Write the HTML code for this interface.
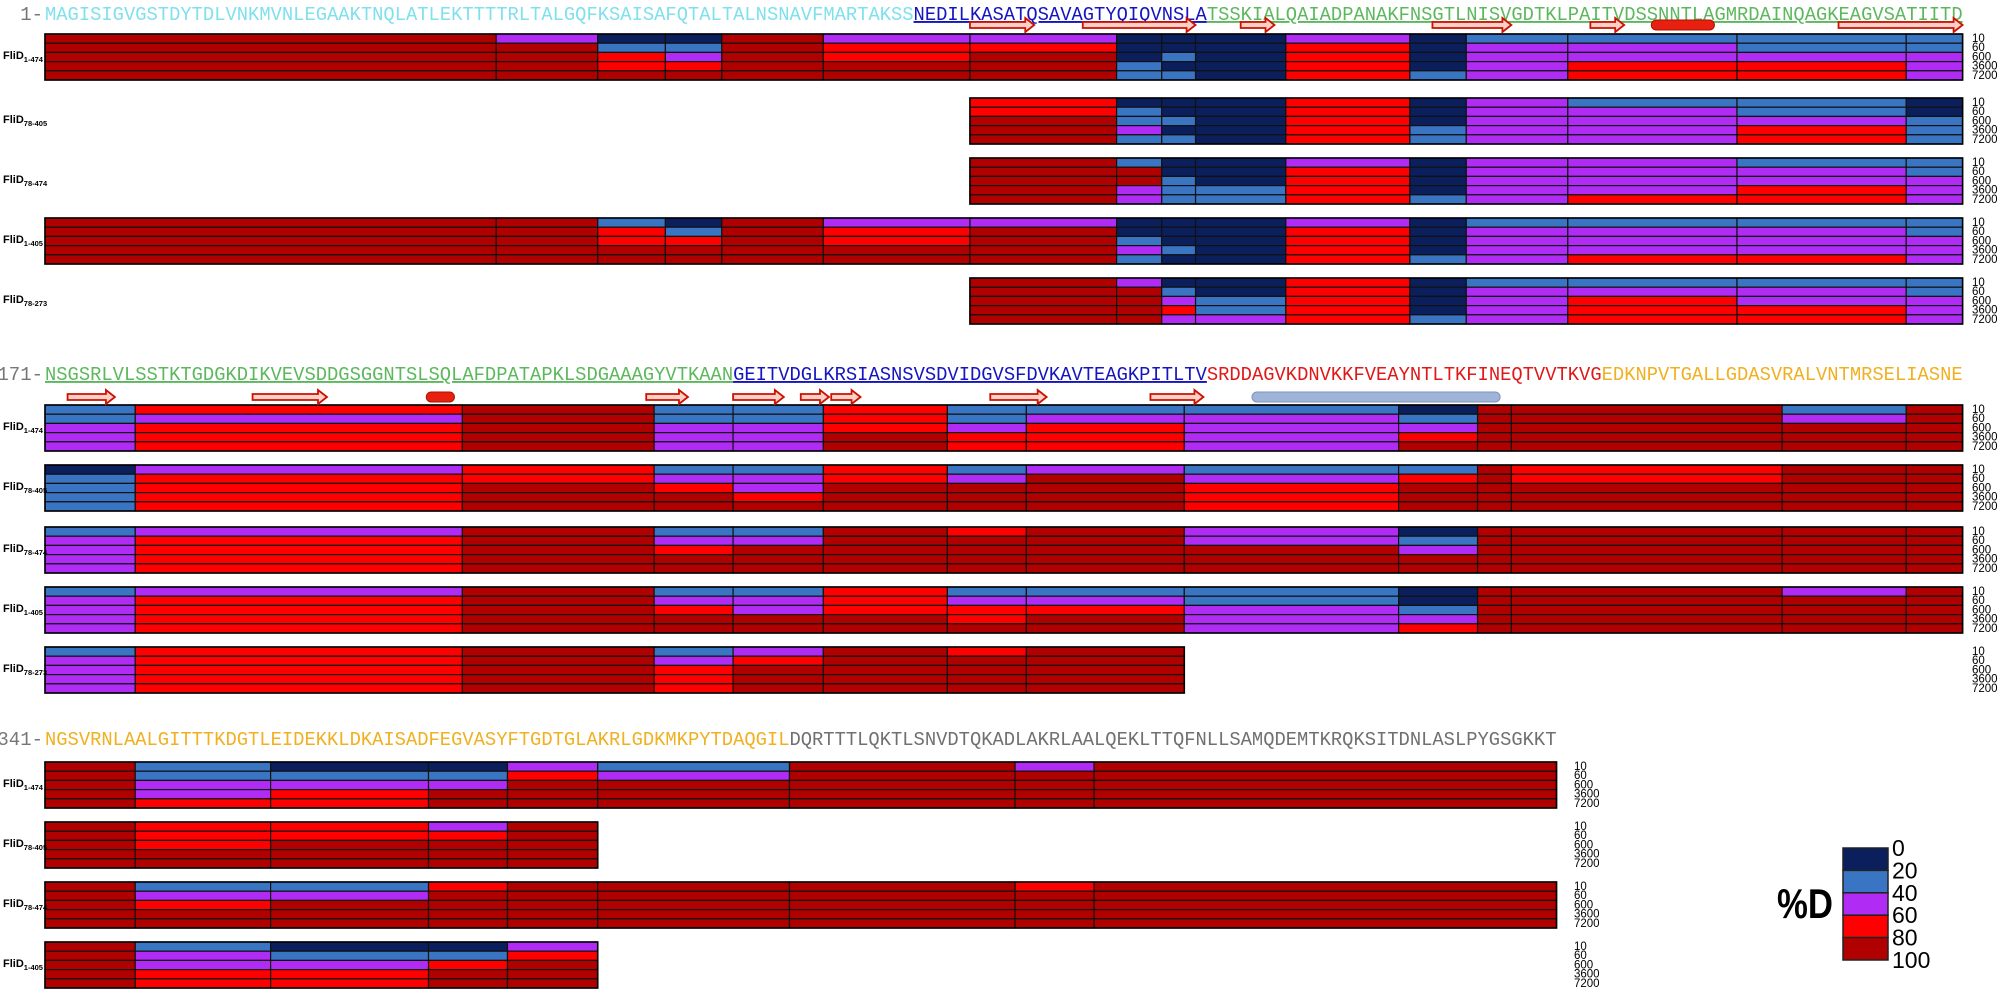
<!DOCTYPE html>
<html><head><meta charset="utf-8">
<style>
html,body{margin:0;padding:0;background:#fff;}
svg{display:block;}
</style></head>
<body>
<svg id="chart" width="2008" height="998" viewBox="0 0 2008 998" xmlns="http://www.w3.org/2000/svg">
  <g>
    <text x="1777" y="918" font-family="Liberation Sans, sans-serif" font-weight="bold" font-size="42" textLength="56" lengthAdjust="spacingAndGlyphs">%D</text>
  </g>
</svg>
<script>
// ---------- data ----------
const levelColors = ['#0b1f5c','#3a75c4','#b02cf5','#ff0000','#b00000'];
const legendTicks = ['0','20','40','60','80','100'];
const timeLabels = ['10','60','600','3600','7200'];
const sectionStarts = [1, 171, 341];
const sectionLengths = [170, 170, 134];
const seqPieces1 = [['MAGISIGVGSTDYTDLVNKMVNLEGAAKTNQLATLEKTTTTRLTALGQFKSAISAFQTALTALNSNAVFMARTAKSS','#7fe0ee',false],['NEDILKASATQSAVAGTYQIQVNSLA','#1414c0',true],['TSSKIALQAIADPANAKFNSGTLNISVGDTKLPAITVDSSNNTLAGMRDAINQAGKEAGVSATIITD','#5cb85c',true]];
const seqPieces2 = [['NSGSRLVLSSTKTGDGKDIKVEVSDDGSGGNTSLSQLAFDPATAPKLSDGAAAGYVTKAAN','#5cb85c',true],['GEITVDGLKRSIASNSVSDVIDGVSFDVKAVTEAGKPITLTV','#1414c0',true],['SRDDAGVKDNVKKFVEAYNTLTKFINEQTVVTKVG','#e01818',false],['EDKNPVTGALLGDASVRALVNTMRSELIASNE','#f0b020',false]];
const seqPieces3 = [['NGSVRNLAALGITTTKDGTLEIDEKKLDKAISADFEGVASYFTGDTGLAKRLGDKMKPYTDAQGIL','#f0b020',false],['DQRTTTLQKTLSNVDTQKADLAKRLAALQEKLTTQFNLLSAMQDEMTKRQKSITDNLASLPYGSGKKT','#707070',false]];
const strands = [[0,82,87.7],[0,92,102],[0,106,109],[0,123,130],[0,137,140],[0,159,170],[1,2,6.2],[1,18.4,25],[1,53.3,57],[1,61,65.5],[1,67,69.5],[1,69.7,72.3],[1,83.8,88.8],[1,98,102.7]];
const helices = [[0,142.4,148,'red'],[1,33.8,36.3,'red'],[1,107,129,'blue']];
const constructNames = [['1-474','78-405','78-474','1-405','78-273'],['1-474','78-405','78-474','1-405','78-273'],['1-474','78-405','78-474','1-405']];
const s1b1 = [[0,40,[4,4,4,4,4]],[40,49,[2,4,4,4,4]],[49,55,[0,1,3,3,4]],[55,60,[0,1,2,3,4]],[60,69,[4,4,4,4,4]],[69,82,[2,3,3,4,4]],[82,95,[2,3,4,4,4]],[95,99,[0,0,0,1,1]],[99,102,[0,0,1,0,1]],[102,110,[0,0,0,0,0]],[110,121,[2,3,3,3,3]],[121,126,[0,0,0,0,1]],[126,135,[1,2,2,2,2]],[135,150,[1,2,2,3,3]],[150,165,[1,1,2,3,3]],[165,170,[1,1,2,2,2]]];
const s1b2 = [[82,95,[3,3,4,4,4]],[95,99,[0,1,1,2,1]],[99,102,[0,0,1,0,1]],[102,110,[0,0,0,0,0]],[110,121,[3,3,3,3,3]],[121,126,[0,0,0,1,1]],[126,135,[2,2,2,2,2]],[135,150,[1,2,2,2,2]],[150,165,[1,1,2,3,3]],[165,170,[0,0,1,1,1]]];
const s1b3 = [[82,95,[4,4,4,4,4]],[95,99,[1,4,4,2,2]],[99,102,[0,0,1,1,1]],[102,110,[0,0,0,1,1]],[110,121,[2,3,3,3,3]],[121,126,[0,0,0,0,1]],[126,135,[2,2,2,2,2]],[135,150,[2,2,2,2,3]],[150,165,[1,2,2,3,3]],[165,170,[1,1,2,2,2]]];
const s1b4 = [[0,40,[4,4,4,4,4]],[40,49,[4,4,4,4,4]],[49,55,[1,3,3,4,4]],[55,60,[0,1,3,4,4]],[60,69,[4,4,4,4,4]],[69,82,[2,3,3,4,4]],[82,95,[2,4,4,4,4]],[95,99,[0,0,1,2,1]],[99,102,[0,0,0,1,0]],[102,110,[0,0,0,0,0]],[110,121,[2,3,3,3,3]],[121,126,[0,0,0,0,1]],[126,135,[1,2,2,2,2]],[135,150,[1,2,2,2,3]],[150,165,[1,2,2,2,3]],[165,170,[1,1,2,2,2]]];
const s1b5 = [[82,95,[4,4,4,4,4]],[95,99,[2,4,4,4,4]],[99,102,[0,1,2,3,2]],[102,110,[0,0,1,1,2]],[110,121,[3,3,3,3,3]],[121,126,[0,0,0,0,1]],[126,135,[1,2,2,2,2]],[135,150,[1,2,3,3,3]],[150,165,[1,2,2,3,3]],[165,170,[1,1,2,2,2]]];
const s2b1 = [[0,8,[1,1,2,2,2]],[8,37,[3,2,3,3,3]],[37,54,[4,4,4,4,4]],[54,61,[1,1,2,2,2]],[61,69,[1,1,2,2,2]],[69,80,[3,3,3,4,4]],[80,87,[1,1,2,3,3]],[87,101,[1,2,3,3,3]],[101,120,[1,2,2,2,2]],[120,127,[0,1,2,3,4]],[127,130,[4,4,4,4,4]],[130,154,[4,4,4,4,4]],[154,165,[1,2,4,4,4]],[165,170,[4,4,4,4,4]]];
const s2b2 = [[0,8,[0,1,1,1,1]],[8,37,[2,3,3,3,3]],[37,54,[3,3,4,4,4]],[54,61,[1,2,3,4,4]],[61,69,[1,2,2,3,4]],[69,80,[3,3,4,4,4]],[80,87,[1,2,4,4,4]],[87,101,[2,4,4,4,4]],[101,120,[1,2,3,3,3]],[120,127,[1,3,4,4,4]],[127,130,[4,4,4,4,4]],[130,154,[3,3,4,4,4]],[154,165,[4,4,4,4,4]],[165,170,[4,4,4,4,4]]];
const s2b3 = [[0,8,[1,2,2,2,2]],[8,37,[2,3,3,3,3]],[37,54,[4,4,4,4,4]],[54,61,[1,2,3,4,4]],[61,69,[1,2,4,4,4]],[69,80,[4,4,4,4,4]],[80,87,[3,4,4,4,4]],[87,101,[4,4,4,4,4]],[101,120,[2,2,4,4,4]],[120,127,[0,1,2,4,4]],[127,130,[4,4,4,4,4]],[130,154,[4,4,4,4,4]],[154,165,[4,4,4,4,4]],[165,170,[4,4,4,4,4]]];
const s2b4 = [[0,8,[1,2,2,2,2]],[8,37,[2,3,3,3,3]],[37,54,[4,4,4,4,4]],[54,61,[1,2,3,4,4]],[61,69,[1,2,2,4,4]],[69,80,[3,3,3,4,4]],[80,87,[1,2,3,3,4]],[87,101,[1,2,3,4,4]],[101,120,[1,1,2,2,2]],[120,127,[0,0,1,2,3]],[127,130,[4,4,4,4,4]],[130,154,[4,4,4,4,4]],[154,165,[2,4,4,4,4]],[165,170,[4,4,4,4,4]]];
const s2b5 = [[0,8,[1,2,2,2,2]],[8,37,[3,3,3,3,3]],[37,54,[4,4,4,4,4]],[54,61,[1,2,3,3,3]],[61,69,[2,3,4,4,4]],[69,80,[4,4,4,4,4]],[80,87,[3,4,4,4,4]],[87,101,[4,4,4,4,4]]];
const s3b1 = [[0,8,[4,4,4,4,4]],[8,20,[1,1,2,2,3]],[20,34,[0,1,2,3,3]],[34,41,[0,1,2,4,4]],[41,49,[2,3,4,4,4]],[49,66,[1,2,4,4,4]],[66,86,[4,4,4,4,4]],[86,93,[2,4,4,4,4]],[93,134,[4,4,4,4,4]]];
const s3b2 = [[0,8,[4,4,4,4,4]],[8,20,[3,3,3,4,4]],[20,34,[3,3,4,4,4]],[34,41,[2,3,4,4,4]],[41,49,[4,4,4,4,4]]];
const s3b3 = [[0,8,[4,4,4,4,4]],[8,20,[1,2,3,4,4]],[20,34,[1,2,4,4,4]],[34,41,[3,4,4,4,4]],[41,49,[4,4,4,4,4]],[49,66,[4,4,4,4,4]],[66,86,[4,4,4,4,4]],[86,93,[3,4,4,4,4]],[93,134,[4,4,4,4,4]]];
const s3b4 = [[0,8,[4,4,4,4,4]],[8,20,[1,2,2,3,3]],[20,34,[0,1,2,3,3]],[34,41,[0,1,3,4,4]],[41,49,[2,3,4,4,4]]];
const sectionBlocks = [[s1b1,s1b2,s1b3,s1b4,s1b5],[s2b1,s2b2,s2b3,s2b4,s2b5],[s3b1,s3b2,s3b3,s3b4]];

// ---------- layout ----------
const NS='http://www.w3.org/2000/svg';
const svg=document.getElementById('chart');
const X0=45, CW=11.28, ROWH=9.2;
const seqY=[14,374,739], ssY=[25,397], blockTop=[[34,98,158,218,278],[405,465,527,587,647],[762,822,882,942]];
const labelX=[1972,1972,1574];
function xOf(off){return X0+off*CW;}
function mk(tag,attrs,parent){const e=document.createElementNS(NS,tag);for(const k in attrs)e.setAttribute(k,attrs[k]);(parent||svg).appendChild(e);return e;}

sectionBlocks.forEach((blocks,s)=>{
  const g=mk('g',{});
  
  
  const pre=mk('text',{x:X0-2,y:seqY[s]+6,'text-anchor':'end','font-family':'Liberation Mono, monospace','font-size':19,fill:'#777'},g);
  
  
  pre.textContent=sectionStarts[s]+'-';
  const pieces=[seqPieces1,seqPieces2,seqPieces3][s];
  let off=0;
  pieces.forEach(p=>{
    const t=mk('text',{x:xOf(off),y:seqY[s]+6,'font-family':'Liberation Mono, monospace','font-size':19,fill:p[1],textLength:(p[0].length*CW).toFixed(1),lengthAdjust:'spacingAndGlyphs'},g);
    if(p[2])t.setAttribute('text-decoration','underline');
    
    
    t.textContent=p[0];
    off+=p[0].length;
  });
  blocks.forEach((segs,b)=>{
    const top=blockTop[s][b];
    const bg=mk('g',{},g);
    
    
    segs.forEach(seg=>{
      seg[2].forEach((lv,r)=>{
        const c=mk('rect',{x:xOf(seg[0]),y:top+r*ROWH,width:(seg[1]-seg[0])*CW,height:ROWH,fill:levelColors[lv],stroke:'#111','stroke-width':1.2},bg);
        
        
      });
    });
    const x1=xOf(segs[0][0]), x2=xOf(segs[segs.length-1][1]);
    const ol=mk('rect',{x:x1,y:top,width:x2-x1,height:ROWH*5,fill:'none',stroke:'#000','stroke-width':1.6},bg);
    
    
    const lab=mk('text',{x:3,y:top+ROWH*2.5+2,'font-family':'Liberation Sans, sans-serif','font-size':11,'font-weight':'bold',fill:'#000'},bg);
    
    
    const t1=mk('tspan',{},lab); t1.textContent='FliD';
    const t2=mk('tspan',{'font-size':7.5,dy:3}); lab.appendChild(t2); t2.textContent=constructNames[s][b];
    timeLabels.forEach((tl,r)=>{
      const tt=mk('text',{x:labelX[s],y:top+r*ROWH+8,'font-family':'Liberation Sans, sans-serif','font-size':11.5,fill:'#000'},bg);
      
      
      tt.textContent=tl;
    });
  });
});

strands.forEach(a=>{
  const x1=xOf(a[1]), x2=xOf(a[2]), y=ssY[a[0]];
  const pts=[[x1,y-3],[x2-9,y-3],[x2-9,y-7],[x2,y],[x2-9,y+7],[x2-9,y+3],[x1,y+3]].map(p=>p.join(',')).join(' ');
  const e=mk('polygon',{points:pts,fill:'#fbd0c8',stroke:'#cc1100','stroke-width':1.8});
  
  
});
helices.forEach(h=>{
  const x1=xOf(h[1]), x2=xOf(h[2]), y=ssY[h[0]];
  const e=mk('rect',{x:x1,y:y-5,width:x2-x1,height:10,rx:5,fill:h[3]==='red'?'#e82010':'#9fb4d8',stroke:h[3]==='red'?'#b01000':'#7f94b8','stroke-width':1});
  
  
});

const LX=1843, LY=848, LH=22.4;
levelColors.forEach((c,i)=>{
  const r=mk('rect',{x:LX,y:LY+i*LH,width:45,height:LH,fill:c,stroke:'#222','stroke-width':1.5});
  
  
});
legendTicks.forEach((t,i)=>{
  const e=mk('text',{x:1892,y:LY+i*LH+8,'font-family':'Liberation Sans, sans-serif','font-size':23,fill:'#000'});
  
  
  e.textContent=t;
});
</script>
</body></html>
